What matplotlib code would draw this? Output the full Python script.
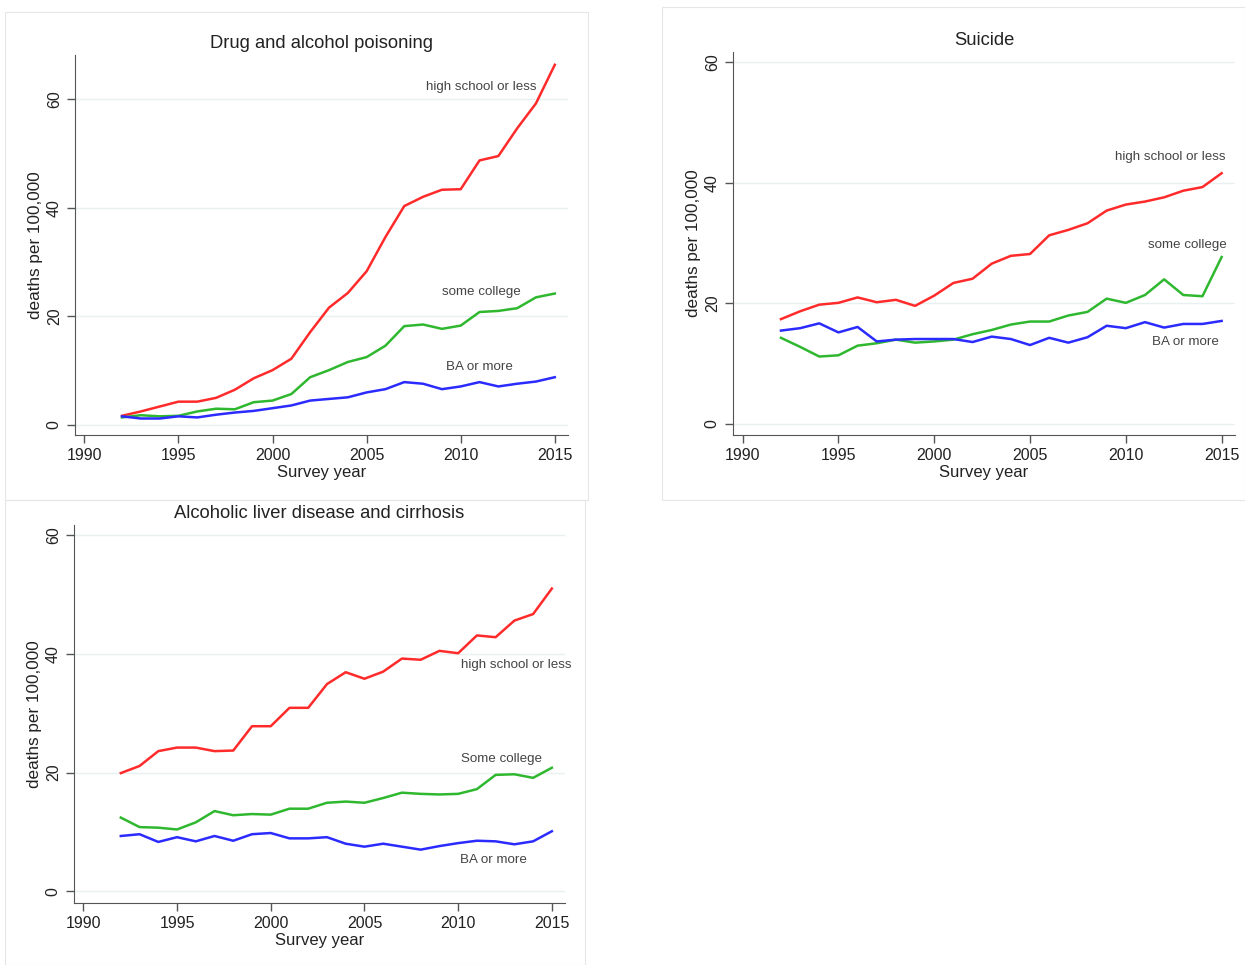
import matplotlib.pyplot as plt
from matplotlib.patches import Rectangle

plt.rcParams['font.family'] = ['Liberation Sans', 'DejaVu Sans']

years = list(range(1992, 2016))

# Drug and alcohol poisoning
drug_hs = [1.7, 2.5, 3.4, 4.3, 4.3, 5.0, 6.5, 8.6, 10.1, 12.2, 17.1, 21.6,
           24.3, 28.3, 34.6, 40.3, 42.0, 43.3, 43.4, 48.7, 49.5, 54.6, 59.2, 66.3]
drug_sc = [1.4, 1.8, 1.6, 1.7, 2.5, 3.0, 2.9, 4.2, 4.5, 5.7, 8.8, 10.1,
           11.6, 12.5, 14.6, 18.2, 18.5, 17.7, 18.3, 20.8, 21.0, 21.5, 23.5, 24.2]
drug_ba = [1.6, 1.2, 1.2, 1.6, 1.4, 1.9, 2.3, 2.6, 3.1, 3.6, 4.5, 4.8,
           5.1, 6.0, 6.6, 7.9, 7.6, 6.6, 7.1, 7.9, 7.1, 7.6, 8.0, 8.8]

# Suicide
sui_hs = [17.4, 18.7, 19.8, 20.1, 21.0, 20.2, 20.6, 19.6, 21.3, 23.4, 24.1, 26.6,
          27.9, 28.2, 31.3, 32.2, 33.3, 35.4, 36.4, 36.9, 37.6, 38.7, 39.3, 41.6]
sui_sc = [14.3, 12.8, 11.2, 11.4, 13.0, 13.4, 14.0, 13.5, 13.7, 14.0, 14.9, 15.6,
          16.5, 17.0, 17.0, 18.0, 18.6, 20.8, 20.1, 21.4, 24.0, 21.4, 21.2, 27.7]
sui_ba = [15.5, 15.9, 16.7, 15.2, 16.1, 13.7, 14.0, 14.1, 14.1, 14.1, 13.6, 14.5,
          14.1, 13.1, 14.3, 13.5, 14.4, 16.3, 15.9, 16.9, 16.0, 16.6, 16.6, 17.1]

# Alcoholic liver disease and cirrhosis
liv_hs = [19.9, 21.1, 23.6, 24.2, 24.2, 23.6, 23.7, 27.8, 27.8, 30.9, 30.9, 34.9,
          36.9, 35.8, 37.0, 39.2, 39.0, 40.5, 40.1, 43.1, 42.8, 45.6, 46.7, 51.0]
liv_sc = [12.4, 10.8, 10.7, 10.4, 11.6, 13.5, 12.8, 13.0, 12.9, 13.9, 13.9, 14.9,
          15.1, 14.9, 15.7, 16.6, 16.4, 16.3, 16.4, 17.2, 19.6, 19.7, 19.1, 20.8]
liv_ba = [9.3, 9.6, 8.3, 9.1, 8.4, 9.3, 8.5, 9.6, 9.8, 8.9, 8.9, 9.1,
          8.0, 7.5, 8.0, 7.5, 7.0, 7.6, 8.1, 8.5, 8.4, 7.9, 8.4, 10.1]

panels = [
    dict(title='Drug and alcohol poisoning', series=(drug_hs, drug_sc, drug_ba),
         labels=('high school or less', 'some college', 'BA or more'),
         label_pos=[(2011.1, 62.2), (2011.1, 24.5), (2011.0, 10.7)],
         rect=[0.0602, 0.5492, 0.396, 0.3938], ylim=(-1.84, 68.1),
         frame=(5, 12, 588, 500)),
    dict(title='Suicide', series=(sui_hs, sui_sc, sui_ba),
         labels=('high school or less', 'some college', 'BA or more'),
         label_pos=[(2012.3, 44.3), (2013.2, 29.7), (2013.1, 13.6)],
         rect=[0.5888, 0.5492, 0.4032, 0.3969], ylim=(-1.82, 61.7),
         frame=(662, 7, 1245, 500)),
    dict(title='Alcoholic liver disease and cirrhosis', series=(liv_hs, liv_sc, liv_ba),
         labels=('high school or less', 'Some college', 'BA or more'),
         label_pos=[(2013.1, 38.1), (2012.3, 22.3), (2011.9, 5.2)],
         rect=[0.0594, 0.0642, 0.3944, 0.3917], ylim=(-2.0, 61.7),
         frame=(5, 500, 585, 965)),
]

colors = ['#ff2b2b', '#2fb82f', '#2b2bff']
W, H = 1245, 965

fig = plt.figure(figsize=(12.45, 9.65), dpi=100)

for p in panels:
    x0, y0, x1, y1 = p['frame']
    fig.patches.append(Rectangle((x0 / W, 1 - y1 / H), (x1 - x0) / W, (y1 - y0) / H,
                                 transform=fig.transFigure, fill=False,
                                 edgecolor='#e6e6e6', linewidth=0.8))

    ax = fig.add_axes(p['rect'])
    for s, c in zip(p['series'], colors):
        ax.plot(years, s, color=c, linewidth=1.8)
    for lab, (lx, ly) in zip(p['labels'], p['label_pos']):
        ax.text(lx, ly, lab, ha='center', va='center', fontsize=9.6, color='#444444')

    ax.set_xlim(1989.5, 2015.7)
    ax.set_ylim(*p['ylim'])
    ax.set_xticks([1990, 1995, 2000, 2005, 2010, 2015])
    ax.set_yticks([0, 20, 40, 60])
    for t in [0, 20, 40, 60]:
        ax.axhline(t, color='#e8f1f1', linewidth=1.0, zorder=0)
    ax.tick_params(axis='both', direction='out', length=6, width=1,
                   colors='#555555', labelcolor='#222222', labelsize=11.5)
    for lbl in ax.get_yticklabels():
        lbl.set_rotation(90)
        lbl.set_va('center')
    for side in ['top', 'right']:
        ax.spines[side].set_visible(False)
    for side in ['left', 'bottom']:
        ax.spines[side].set_color('#555555')
    ax.set_title(p['title'], fontsize=13.2, color='#222222', pad=5)
    ax.set_xlabel('Survey year', fontsize=12, color='#222222', labelpad=1)
    ax.set_ylabel('deaths per 100,000', fontsize=12.3, color='#222222', labelpad=3)

fig.savefig('out.png', dpi=100, facecolor='white')
